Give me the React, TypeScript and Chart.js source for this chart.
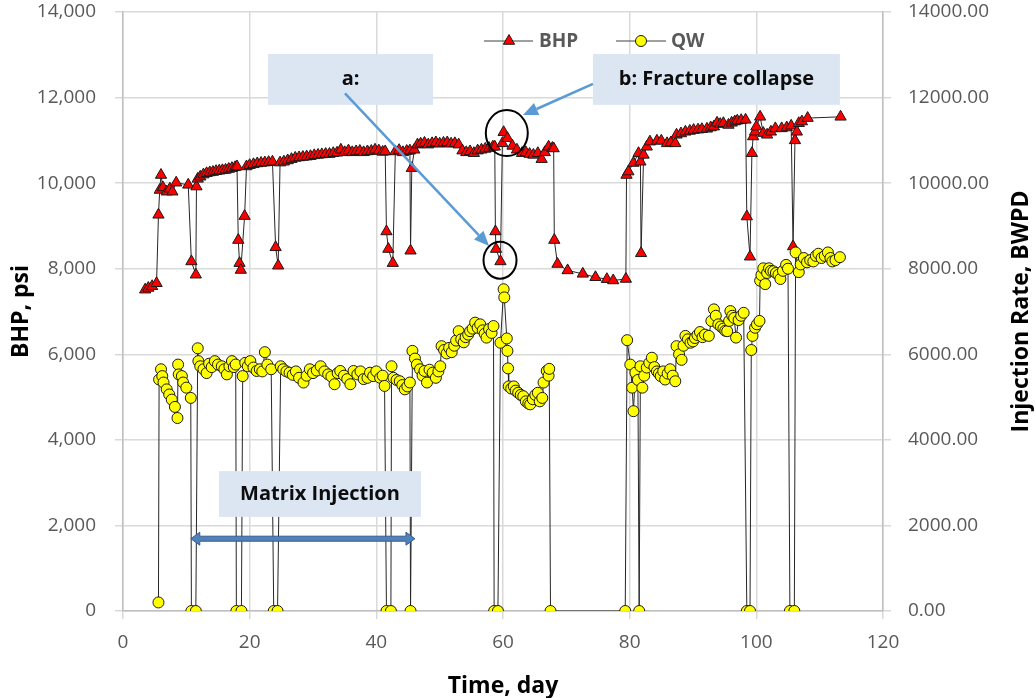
import React, { useEffect, useRef } from 'react';
import { Chart, registerables } from 'chart.js';

Chart.register(...registerables);

// ---------- data ----------
const xTickStep = 20;
const yTickStep = 2000;

const bhpDays = [
  3.5, 4.0, 4.6, 5.3, 5.6, 5.8, 6.0, 6.3, 6.9, 7.4,
  7.8, 8.4, 10.3, 10.8, 11.5, 11.6, 11.8, 12.2, 12.7, 13.2,
  13.7, 14.2, 14.7, 15.2, 15.7, 16.2, 16.7, 17.2, 17.7, 18.0,
  18.2, 18.4, 18.6, 19.2, 19.5, 20.0, 20.6, 21.2, 21.8, 22.4,
  23.0, 23.6, 24.1, 24.5, 24.8, 25.4, 26.0, 26.6, 27.2, 27.8,
  28.4, 29.0, 29.6, 30.2, 30.8, 31.4, 32.0, 32.6, 33.2, 33.8,
  34.4, 35.0, 35.6, 36.2, 36.8, 37.4, 38.0, 38.6, 39.2, 39.8,
  40.4, 41.0, 41.4, 41.6, 41.9, 42.6, 43.0, 43.6, 44.2, 44.8,
  45.3, 45.4, 45.6, 46.0, 46.5, 47.0, 47.6, 48.2, 48.8, 49.4,
  50.0, 50.6, 51.2, 51.8, 52.4, 53.0, 53.6, 54.2, 54.8, 55.4,
  56.0, 56.6, 57.2, 57.8, 58.4, 58.7, 58.8, 58.9, 59.6, 59.9,
  60.1, 60.7, 61.5, 62.2, 63.0, 63.6, 64.2, 64.8, 65.5, 66.1,
  66.6, 67.2, 67.8, 68.0, 68.1, 68.6, 70.2, 72.6, 74.6, 76.4,
  77.4, 79.4, 79.5, 79.8, 80.6, 81.4, 81.7, 81.8, 82.2, 82.7,
  83.2, 84.3, 85.0, 85.9, 86.5, 87.2, 87.4, 88.1, 88.8, 89.5,
  90.1, 90.8, 91.4, 92.2, 92.8, 93.3, 93.8, 94.3, 94.8, 95.6,
  96.1, 96.6, 97.0, 97.6, 98.3, 98.5, 99.0, 99.3, 99.5, 99.8,
  100.0, 100.6, 101.1, 101.7, 102.3, 103.0, 104.0, 104.8, 105.5, 105.8,
  106.1, 106.4, 106.7, 107.2, 108.1, 113.3,
];
const bhpPsi = [
  7510, 7550, 7590, 7660, 9260, 9840, 10190, 9900, 9800, 9870,
  9800, 10010, 9960, 8170, 7860, 9920, 10100, 10150, 10200, 10230,
  10250, 10260, 10280, 10290, 10300, 10310, 10330, 10350, 10370, 10390,
  8670, 8130, 7970, 9230, 10390, 10420, 10440, 10460, 10470, 10480,
  10490, 10500, 8500, 8070, 10480, 10500, 10530, 10560, 10590, 10600,
  10610, 10620, 10630, 10650, 10660, 10670, 10680, 10680, 10700, 10710,
  10780, 10720, 10760, 10720, 10740, 10750, 10720, 10740, 10750, 10780,
  10760, 10730, 10740, 8870, 8460, 8130, 10740, 10770, 10720, 10750,
  10760, 8420, 10350, 10780, 10900, 10920, 10940, 10900, 10930, 10950,
  10920, 10940, 10950, 10920, 10930, 10900, 10760, 10720, 10740, 10700,
  10760, 10780, 10800, 10820, 10850, 10850, 8870, 8460, 8170, 10930,
  11190, 11050, 10870, 10780, 10700, 10720, 10680, 10660, 10700, 10560,
  10720, 10850, 10820, 10810, 8670, 8110, 7960, 7880, 7800, 7755,
  7725, 7760, 10190, 10270, 10470, 10700, 10500, 8360, 10660, 10850,
  10970, 10990, 10990, 10930, 10950, 10930, 11130, 11160, 11200, 11220,
  11240, 11250, 11260, 11270, 11300, 11320, 11410, 11380, 11400, 11360,
  11410, 11440, 11460, 11470, 11480, 9220, 8280, 10700, 11090, 11200,
  11320, 11550, 11170, 11130, 11200, 11280, 11280, 11300, 11340, 8520,
  11000, 11200, 11400, 11440, 11520, 11550,
];

const qwDays = [
  5.6, 5.7, 6.0, 6.2, 6.4, 6.9, 7.3, 7.7, 8.2, 8.6,
  8.7, 8.8, 9.3, 9.5, 10.0, 10.7, 10.8, 11.5, 11.8, 11.9,
  12.2, 12.7, 13.2, 13.6, 14.0, 14.5, 15.0, 15.6, 16.0, 16.4,
  16.8, 17.2, 17.5, 17.8, 17.9, 18.7, 18.9, 19.3, 19.7, 20.1,
  20.6, 21.1, 21.6, 22.0, 22.4, 22.8, 23.4, 23.8, 24.4, 24.9,
  25.3, 25.8, 26.3, 26.8, 27.3, 27.8, 28.5, 29.0, 29.5, 30.0,
  30.6, 31.2, 31.8, 32.4, 32.9, 33.4, 33.9, 34.3, 34.9, 35.4,
  35.9, 36.4, 37.0, 37.5, 38.0, 38.6, 39.0, 39.5, 40.0, 40.6,
  41.0, 41.3, 41.6, 42.3, 42.4, 42.7, 43.2, 43.7, 44.1, 44.5,
  44.9, 45.3, 45.4, 45.7, 46.1, 46.4, 46.9, 47.3, 47.6, 48.0,
  48.4, 48.9, 49.4, 49.8, 50.1, 50.3, 50.7, 51.1, 51.5, 51.9,
  52.3, 52.6, 53.0, 53.4, 53.8, 54.1, 54.5, 54.8, 55.2, 55.6,
  56.0, 56.4, 56.8, 57.1, 57.4, 57.8, 58.2, 58.5, 58.6, 59.2,
  59.6, 60.1, 60.2, 60.6, 60.7, 60.8, 60.9, 61.3, 61.7, 62.0,
  62.4, 62.8, 63.2, 63.6, 64.0, 64.3, 64.7, 65.1, 65.5, 65.8,
  66.2, 66.4, 66.9, 67.2, 67.3, 67.5, 79.3, 79.6, 80.1, 80.4,
  80.6, 80.9, 81.3, 81.5, 81.7, 82.0, 82.3, 82.7, 83.1, 83.5,
  83.9, 84.3, 84.6, 84.9, 85.3, 85.6, 86.0, 86.4, 86.8, 87.2,
  87.4, 87.8, 88.2, 88.5, 88.8, 89.2, 89.6, 90.0, 90.3, 90.7,
  91.1, 91.5, 91.9, 92.5, 92.9, 93.3, 93.6, 94.0, 94.4, 94.8,
  95.1, 95.4, 95.7, 95.9, 96.2, 96.5, 96.8, 97.2, 97.6, 98.0,
  98.5, 99.0, 99.2, 99.4, 99.8, 100.1, 100.5, 100.6, 100.8, 101.1,
  101.4, 101.7, 102.0, 102.3, 102.7, 103.1, 103.5, 103.8, 104.2, 104.7,
  105.0, 105.3, 106.0, 106.2, 106.7, 107.0, 107.5, 108.0, 108.5, 109.0,
  109.4, 109.8, 110.3, 110.8, 111.3, 111.7, 112.0, 112.5, 113.2,
];
const qwBwpd = [
  200, 5410, 5650, 5490, 5340, 5180, 5060, 4940, 4770, 4510,
  5760, 5530, 5490, 5340, 5220, 4980, 0, 0, 6140, 5840,
  5720, 5650, 5560, 5780, 5700, 5840, 5760, 5720, 5650, 5530,
  5720, 5840, 5700, 5760, 0, 0, 5490, 5800, 5720, 5840,
  5690, 5610, 5650, 5600, 6050, 5760, 5650, 0, 0, 5720,
  5650, 5600, 5570, 5520, 5600, 5450, 5340, 5500, 5650, 5560,
  5620, 5720, 5600, 5530, 5480, 5300, 5560, 5610, 5500, 5420,
  5300, 5610, 5530, 5600, 5420, 5450, 5570, 5490, 5600, 5450,
  5500, 5260, 0, 0, 5720, 5450, 5400, 5370, 5280, 5180,
  5250, 5340, 0, 6080, 5900, 5760, 5650, 5500, 5610, 5340,
  5640, 5570, 5450, 5600, 5720, 6190, 6100, 6020, 6150, 6050,
  6200, 6320, 6540, 6350, 6280, 6400, 6460, 6540, 6600, 6740,
  6620, 6700, 6560, 6480, 6390, 6590, 6500, 6660, 0, 0,
  6270, 7520, 7330, 6370, 6080, 5670, 5250, 5200, 5250, 5150,
  5100, 5050, 5020, 4900, 4850, 4830, 4950, 5050, 5100, 4900,
  4980, 5340, 5610, 5500, 5660, 0, 0, 6330, 5760, 5220,
  4670, 5570, 5400, 0, 5720, 5220, 5500, 5690, 5800, 5920,
  5700, 5600, 5550, 5490, 5600, 5410, 5550, 5650, 5500, 5370,
  6190, 6000, 5870, 6200, 6430, 6350, 6270, 6300, 6380, 6450,
  6520, 6400, 6460, 6430, 6780, 7050, 6900, 6700, 6650, 6600,
  6550, 6540, 6780, 7010, 6900, 6850, 6390, 6800, 6900, 6970,
  0, 0, 6100, 6430, 6620, 6700, 6780, 7720, 7850, 8010,
  7640, 7900, 8010, 7950, 7940, 7900, 7860, 7760, 7950, 8090,
  8000, 0, 0, 8380, 7920, 8100, 8250, 8150, 8200, 8170,
  8300, 8350, 8250, 8300, 8380, 8250, 8170, 8200, 8270,
];

// annotation anchors in data units (day, psi)
const boxA = { d1: 22.9, d2: 48.95, v1: 13020, v2: 11830, text: 'a:' };
const boxB = { d1: 74.2, d2: 113.2, v1: 13020, v2: 11830, text: 'b: Fracture collapse' };
const boxMatrix = { d1: 15.15, d2: 47.05, v1: 3270, v2: 2200, text: 'Matrix Injection' };
const matrixSpan = { d1: 10.7, d2: 46.1, v: 1690 };
const arrowA = { d1: 35.05, v1: 12100, d2: 57.8, v2: 8530 };
const arrowB = { d1: 74.2, v1: 12320, d2: 63.15, v2: 11590 };
const circleA = { d: 59.53, v: 8200, rx: 16.5, ry: 18.5 };
const circleB = { d: 60.6, v: 11170, rx: 21, ry: 23 };

const FONT = "'Open Sans', 'Liberation Sans', sans-serif";
const TICK_COLOR = '#595959';
const GRID_COLOR = '#d9d9d9';

function drawTriangle(ctx: CanvasRenderingContext2D, x: number, y: number, r: number) {
  ctx.beginPath();
  for (let i = 0; i < 3; i++) {
    const a = (i * 2 * Math.PI) / 3;
    const px = x + Math.sin(a) * r;
    const py = y - Math.cos(a) * r;
    if (i === 0) ctx.moveTo(px, py);
    else ctx.lineTo(px, py);
  }
  ctx.closePath();
}

function drawArrow(ctx: CanvasRenderingContext2D, x1: number, y1: number, x2: number, y2: number, color: string, width: number, headLen: number, headW: number) {
  const ang = Math.atan2(y2 - y1, x2 - x1);
  const bx = x2 - Math.cos(ang) * headLen;
  const by = y2 - Math.sin(ang) * headLen;
  ctx.strokeStyle = color;
  ctx.lineWidth = width;
  ctx.lineCap = 'butt';
  ctx.beginPath();
  ctx.moveTo(x1, y1);
  ctx.lineTo(bx, by);
  ctx.stroke();
  ctx.fillStyle = color;
  ctx.beginPath();
  ctx.moveTo(x2, y2);
  ctx.lineTo(bx + Math.sin(ang) * headW / 2, by - Math.cos(ang) * headW / 2);
  ctx.lineTo(bx - Math.sin(ang) * headW / 2, by + Math.cos(ang) * headW / 2);
  ctx.closePath();
  ctx.fill();
}

const overlayPlugin = {
  id: 'overlay',
  afterDatasetsDraw(chart: any) {
    const { ctx, scales } = chart;
    const X = (d: number) => scales.x.getPixelForValue(d);
    const Y = (v: number) => scales.y.getPixelForValue(v);
    ctx.save();

    // text boxes
    const drawBox = (b: any) => {
      const x1 = X(b.d1), x2 = X(b.d2), y1 = Y(b.v1), y2 = Y(b.v2);
      ctx.fillStyle = '#dce6f2';
      ctx.fillRect(x1, y1, x2 - x1, y2 - y1);
      ctx.fillStyle = '#0d0d0d';
      ctx.font = `bold 20px ${FONT}`;
      ctx.textAlign = 'center';
      ctx.textBaseline = 'middle';
      ctx.fillText(b.text, (x1 + x2) / 2, (y1 + y2) / 2);
    };
    drawBox(boxA);
    drawBox(boxB);
    drawBox(boxMatrix);

    // matrix injection double arrow
    {
      const x1 = X(matrixSpan.d1), x2 = X(matrixSpan.d2), y = Y(matrixSpan.v);
      const head = 9, hw = 6.5, sh = 2.5;
      ctx.beginPath();
      ctx.moveTo(x1, y);
      ctx.lineTo(x1 + head, y - hw);
      ctx.lineTo(x1 + head, y - sh);
      ctx.lineTo(x2 - head, y - sh);
      ctx.lineTo(x2 - head, y - hw);
      ctx.lineTo(x2, y);
      ctx.lineTo(x2 - head, y + hw);
      ctx.lineTo(x2 - head, y + sh);
      ctx.lineTo(x1 + head, y + sh);
      ctx.lineTo(x1 + head, y + hw);
      ctx.closePath();
      ctx.fillStyle = '#4f81bd';
      ctx.fill();
      ctx.strokeStyle = '#385d8a';
      ctx.lineWidth = 1;
      ctx.stroke();
    }

    // callout arrows
    drawArrow(ctx, X(arrowA.d1), Y(arrowA.v1), X(arrowA.d2), Y(arrowA.v2), '#5b9bd5', 2.5, 15, 13);
    drawArrow(ctx, X(arrowB.d1), Y(arrowB.v1), X(arrowB.d2), Y(arrowB.v2), '#5b9bd5', 2.5, 15, 13);

    // circles
    ctx.strokeStyle = '#000000';
    ctx.lineWidth = 2;
    for (const c of [circleA, circleB]) {
      ctx.beginPath();
      ctx.ellipse(X(c.d), Y(c.v), c.rx, c.ry, 0, 0, Math.PI * 2);
      ctx.stroke();
    }

    // legend
    const ly = 41;
    ctx.lineWidth = 1;
    ctx.strokeStyle = '#404040';
    ctx.beginPath();
    ctx.moveTo(484, ly);
    ctx.lineTo(533, ly);
    ctx.moveTo(616, ly);
    ctx.lineTo(666, ly);
    ctx.stroke();
    ctx.fillStyle = '#ff0000';
    ctx.strokeStyle = '#1a1a1a';
    drawTriangle(ctx, 509, ly, 6.5);
    ctx.fill();
    ctx.stroke();
    ctx.fillStyle = '#ffff00';
    ctx.beginPath();
    ctx.arc(641, ly, 5.5, 0, Math.PI * 2);
    ctx.fill();
    ctx.stroke();
    ctx.fillStyle = TICK_COLOR;
    ctx.font = `bold 19px ${FONT}`;
    ctx.textAlign = 'left';
    ctx.textBaseline = 'middle';
    ctx.fillText('BHP', 539, ly + 1);
    ctx.fillText('QW', 671, ly + 1);

    ctx.restore();
  },
  afterDraw(chart: any) {
    const { ctx, chartArea } = chart;
    ctx.save();
    ctx.fillStyle = '#000000';
    ctx.font = `bold 23px ${FONT}`;
    ctx.textAlign = 'center';
    ctx.textBaseline = 'middle';
    const midY = (chartArea.top + chartArea.bottom) / 2;
    ctx.fillText('Time, day', (chartArea.left + chartArea.right) / 2, 686);
    ctx.save();
    ctx.translate(21, midY);
    ctx.rotate(-Math.PI / 2);
    ctx.fillText('BHP, psi', 0, 0);
    ctx.restore();
    ctx.save();
    ctx.translate(1021, midY);
    ctx.rotate(-Math.PI / 2);
    ctx.fillText('Injection Rate, BWPD', 0, 0);
    ctx.restore();
    ctx.restore();
  },
};

const fitY = (w: number) => (s: any) => {
  s.width = w;
  s.paddingTop = 0;
  s.paddingBottom = 0;
};

export default function App() {
  const ref = useRef<HTMLCanvasElement>(null);

  useEffect(() => {
    const bhpData = bhpDays.map((d, i) => ({ x: d, y: bhpPsi[i] }));
    const qwData = qwDays.map((d, i) => ({ x: d, y: qwBwpd[i] }));
    const tickFont = { family: FONT, size: 19 };
    const chart = new Chart(ref.current as HTMLCanvasElement, {
      type: 'line',
      data: {
        datasets: [
          {
            label: 'QW',
            data: qwData,
            yAxisID: 'y2',
            borderColor: '#262626',
            borderWidth: 1,
            pointStyle: 'circle',
            pointRadius: 5.5,
            pointBackgroundColor: '#ffff00',
            pointBorderColor: '#1a1a1a',
            pointBorderWidth: 1,
            tension: 0,
            fill: false,
            order: 1,
          },
          {
            label: 'BHP',
            data: bhpData,
            yAxisID: 'y',
            borderColor: '#262626',
            borderWidth: 1,
            pointStyle: 'triangle',
            pointRadius: 6.5,
            pointBackgroundColor: '#ff0000',
            pointBorderColor: '#1a1a1a',
            pointBorderWidth: 1,
            tension: 0,
            fill: false,
            order: 2,
          },
        ],
      },
      options: {
        animation: false,
        responsive: true,
        maintainAspectRatio: false,
        devicePixelRatio: 1,
        events: [],
        layout: { padding: { top: 12, left: 0, right: 0, bottom: 0 } },
        plugins: { legend: { display: false }, tooltip: { enabled: false } },
        scales: {
          x: {
            type: 'linear',
            min: 0,
            max: 120,
            afterFit: (s: any) => { s.height = 87; s.paddingLeft = 0; s.paddingRight = 0; },
            ticks: { stepSize: xTickStep, color: TICK_COLOR, font: tickFont, padding: 12, maxRotation: 0, autoSkip: false },
            grid: { color: GRID_COLOR, lineWidth: 1.5, tickLength: 8 },
            border: { display: true, color: '#bfbfbf', width: 1.5 },
          },
          y: {
            type: 'linear',
            position: 'left',
            min: 0,
            max: 14000,
            afterFit: fitY(123),
            ticks: {
              stepSize: yTickStep,
              color: TICK_COLOR,
              font: tickFont,
              padding: 19,
              callback: (v: any) => Number(v).toLocaleString('en-US'),
            },
            grid: { color: GRID_COLOR, lineWidth: 1.5, tickLength: 8 },
            border: { display: true, color: '#bfbfbf', width: 1.5 },
          },
          y2: {
            type: 'linear',
            position: 'right',
            min: 0,
            max: 14000,
            afterFit: fitY(152),
            ticks: {
              stepSize: yTickStep,
              color: TICK_COLOR,
              font: tickFont,
              padding: 17,
              callback: (v: any) => Number(v).toFixed(2),
            },
            grid: { drawOnChartArea: false, color: GRID_COLOR, lineWidth: 1.5, tickLength: 8 },
            border: { display: true, color: '#bfbfbf', width: 1.5 },
          },
        },
      },
      plugins: [overlayPlugin],
    } as any);
    return () => chart.destroy();
  }, []);

  return (
    <div style={{ position: 'absolute', left: 0, top: 0, width: 1035, height: 698 }}>
      <canvas ref={ref} />
    </div>
  );
}
